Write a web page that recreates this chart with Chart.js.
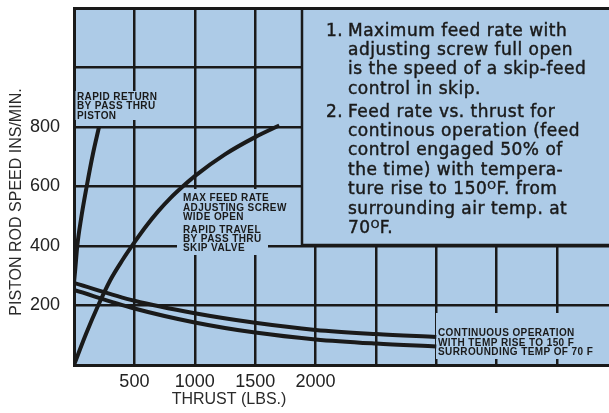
<!DOCTYPE html>
<html>
<head>
<meta charset="utf-8">
<script src="https://cdn.jsdelivr.net/npm/chart.js@4.4.1/dist/chart.umd.min.js"></script>
<style>
  html, body { margin: 0; padding: 0; background: #ffffff; }
  #wrap { width: 609px; height: 413px; }
  canvas { display: block; }
</style>
</head>
<body>
<div id="wrap"><canvas id="c" width="609" height="413"></canvas></div>
<script>
// ---- data ----
const xGrid = [0, 500, 1000, 1500, 2000, 2500, 3000, 3500, 4000];
const yGrid = [0, 200, 400, 600, 800, 1000, 1200];
const xTickLabels = [500, 1000, 1500, 2000];
const yTickLabels = [200, 400, 600, 800];

const rapidReturnX = [0, 10, 27, 58, 105, 157, 207];
const rapidReturnY = [278, 320, 400, 490, 600, 710, 800];

const maxFeedX = [0, 100, 200, 300, 400, 500, 600, 700, 800, 900, 1000, 1250, 1500, 1700];
const maxFeedY = [0, 105, 200, 285, 352, 412, 468, 518, 562, 600, 635, 708, 766, 805];

const contUpperX = [0, 500, 1000, 1500, 2000, 2500, 3000];
const contUpperY = [276, 216, 174, 142, 118, 104, 94];

const contLowerX = [0, 500, 1000, 1500, 2000, 2500, 3000];
const contLowerY = [252, 190, 143, 109, 86, 72, 62];

const xTitle = 'THRUST (LBS.)';
const yTitle = 'PISTON ROD SPEED INS/MIN.';

const labelRapidReturn = ['RAPID RETURN', 'BY PASS THRU', 'PISTON'];
const labelMaxFeed = ['MAX FEED RATE', 'ADJUSTING SCREW', 'WIDE OPEN'];
const labelRapidTravel = ['RAPID TRAVEL', 'BY PASS THRU', 'SKIP VALVE'];
const labelContinuous = ['CONTINUOUS OPERATION', 'WITH TEMP RISE TO 150 F', 'SURROUNDING TEMP OF 70 F'];

const note1 = ['Maximum feed rate with', 'adjusting screw full open', 'is the speed of a skip-feed', 'control in skip.'];
const note2 = ['Feed rate vs. thrust for', 'continous operation (feed', 'control engaged 50% of', 'the time) with tempera-'];

// ---- helpers ----
const BLUE = '#adcbe7';
const INK = '#1a1a1a';
const zip = (xs, ys) => xs.map((x, i) => ({ x: x, y: ys[i] }));

function curve(xs, ys) {
  return {
    data: zip(xs, ys),
    showLine: true,
    borderColor: INK,
    borderWidth: 4,
    pointRadius: 0,
    fill: false,
    tension: 0.4,
    cubicInterpolationMode: 'monotone'
  };
}

const overlay = {
  id: 'overlay',
  beforeDraw(chart) {
    const { ctx, chartArea: a } = chart;
    ctx.save();
    ctx.fillStyle = BLUE;
    ctx.fillRect(a.left, a.top, a.right - a.left, a.bottom - a.top);
    ctx.restore();
  },
  beforeDatasetsDraw(chart) {
    const ctx = chart.ctx;
    ctx.save();
    ctx.fillStyle = BLUE;
    // label background patches (hide grid under labels)
    ctx.fillRect(75.5, 91, 88, 29);
    ctx.fillRect(177, 189, 91, 66);
    ctx.fillRect(436, 313, 180, 46);
    // note box
    ctx.fillRect(302, 10, 310, 235);
    ctx.strokeStyle = INK;
    ctx.lineWidth = 2.5;
    ctx.beginPath();
    ctx.moveTo(302, 8);
    ctx.lineTo(302, 245);
    ctx.lineTo(612, 245);
    ctx.stroke();

    // small bold labels
    ctx.fillStyle = INK;
    ctx.font = 'bold 10px "Liberation Sans", Arial, sans-serif';
    ctx.textBaseline = 'middle';
    ctx.textAlign = 'left';
    try { ctx.letterSpacing = '0.4px'; } catch (e) {}
    const draw = (lines, x, ys) => lines.forEach((t, i) => ctx.fillText(t, x, ys[i]));
    draw(labelRapidReturn, 77, [97, 106.5, 116]);
    draw(labelMaxFeed, 183, [198.5, 208, 217.5]);
    draw(labelRapidTravel, 183, [230, 239.3, 248.5]);
    draw(labelContinuous, 438, [333.3, 342.8, 352.3]);

    // note text (slightly emboldened)
    ctx.textBaseline = 'alphabetic';
    ctx.strokeStyle = INK;
    ctx.lineWidth = 0.45;
    try { ctx.letterSpacing = '0.5px'; } catch (e) {}
    const NF = '17px "DejaVu Sans", sans-serif';
    const txt = (t, x, y) => { ctx.fillText(t, x, y); ctx.strokeText(t, x, y); };
    ctx.font = NF;
    const base1 = [36, 55.2, 74.4, 93.6];
    txt('1.', 326, base1[0]);
    note1.forEach((t, i) => txt(t, 348, base1[i]));
    const step = 19.4;
    const b2 = [116.5];
    for (let i = 1; i < 7; i++) b2.push(116.5 + step * i);
    txt('2.', 326, b2[0]);
    note2.forEach((t, i) => txt(t, 348, b2[i]));
    // lines with superscript degree "O"
    const supLine = (pre, post, x, y) => {
      ctx.font = NF;
      txt(pre, x, y);
      let w = ctx.measureText(pre).width;
      ctx.font = '11px "DejaVu Sans", sans-serif';
      txt('O', x + w, y - 5);
      w += ctx.measureText('O').width;
      ctx.font = NF;
      txt(post, x + w, y);
    };
    supLine('ture rise to 150', 'F. from', 348, b2[4]);
    ctx.font = NF;
    txt('surrounding air temp. at', 348, b2[5]);
    supLine('70', 'F.', 348, b2[6]);

    // axis titles
    try { ctx.letterSpacing = '0px'; } catch (e) {}
    ctx.fillStyle = '#2a2a2a';
    ctx.font = '16px "Liberation Sans", Arial, sans-serif';
    ctx.textAlign = 'center';
    ctx.textBaseline = 'middle';
    ctx.fillText(xTitle, 229, 400);
    ctx.translate(17, 202);
    ctx.rotate(-Math.PI / 2);
    ctx.fillText(yTitle, 0, 0);
    ctx.restore();
  }
};

const tickFont = { family: '"Liberation Sans", Arial, sans-serif', size: 18 };

new Chart(document.getElementById('c'), {
  type: 'scatter',
  data: {
    datasets: [
      curve(rapidReturnX, rapidReturnY),
      curve(maxFeedX, maxFeedY),
      curve(contUpperX, contUpperY),
      curve(contLowerX, contLowerY)
    ]
  },
  options: {
    responsive: false,
    animation: false,
    devicePixelRatio: 1,
    layout: { padding: { top: 8, right: 0, bottom: 0, left: 0 } },
    plugins: { legend: { display: false }, tooltip: { enabled: false } },
    scales: {
      x: {
        type: 'linear',
        min: 0,
        max: 4430,
        afterBuildTicks: s => { s.ticks = xGrid.map(v => ({ value: v })); },
        afterFit: s => { s.height = 48; s.paddingLeft = 0; s.paddingRight = 0; },
        ticks: {
          autoSkip: false,
          maxRotation: 0,
          padding: 6,
          color: '#222',
          font: tickFont,
          callback: v => xTickLabels.includes(v) ? String(v) : ''
        },
        grid: { color: INK, lineWidth: 2.5, drawTicks: false },
        border: { color: INK, width: 3 }
      },
      y: {
        type: 'linear',
        min: 0,
        max: 1200,
        afterBuildTicks: s => { s.ticks = yGrid.map(v => ({ value: v })); },
        afterFit: s => { s.width = 74; s.paddingTop = 0; s.paddingBottom = 0; },
        ticks: {
          autoSkip: false,
          padding: 14,
          color: '#222',
          font: tickFont,
          callback: v => yTickLabels.includes(v) ? String(v) : ''
        },
        grid: { color: INK, lineWidth: c => (c.tick && c.tick.value === 1200 ? 3 : 2.5), drawTicks: false },
        border: { color: INK, width: 3 }
      }
    }
  },
  plugins: [overlay]
});
</script>
</body>
</html>
